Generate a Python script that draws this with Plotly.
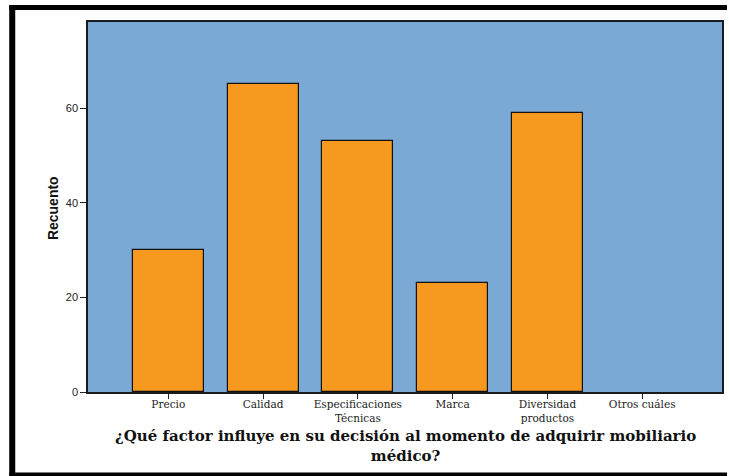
import plotly.graph_objects as go

# Response counts per factor
categorias = ["Precio", "Calidad", "Especificaciones<br>Técnicas", "Marca",
              "Diversidad<br>productos", "Otros cuáles"]
recuento = [30, 65, 53, 23, 59, 0]
y_ticks = [0, 20, 40, 60]

# Plot area in pixels (for converting frame positions to paper coords)
W, H = 729, 476
L, R, T, B = 88, 724, 22, 392
pw, ph = R - L, B - T


def px_x(x):
    return (x - L) / pw


def px_y(y):
    return (B - y) / ph


# empty categories get no outline
outline_w = [1.2 if v > 0 else 0 for v in recuento]

fig = go.Figure()
fig.add_trace(go.Bar(
    x=list(range(len(categorias))),
    y=recuento,
    width=0.75,
    marker=dict(color="#F7991F", line=dict(color="#111111", width=outline_w)),
    hoverinfo="x+y",
))

fig.update_layout(
    width=W, height=H,
    margin=dict(l=L, r=W - R, t=T, b=H - B, pad=0),
    paper_bgcolor="white",
    plot_bgcolor="#7BA9D6",
    showlegend=False,
    bargap=0,
    xaxis=dict(
        range=[-0.847, 5.842],
        tickmode="array",
        tickvals=list(range(len(categorias))),
        ticktext=categorias,
        ticks="outside", ticklen=5, tickwidth=1.2, tickcolor="#222",
        ticklabelstandoff=-3,
        tickfont=dict(family="DejaVu Serif", size=10.5, color="#222"),
        showgrid=False, zeroline=False,
        showline=True, linecolor="#1a1a1a", linewidth=1.5, mirror=True,
    ),
    yaxis=dict(
        range=[0, 78.2],
        tickmode="array", tickvals=y_ticks,
        ticks="outside", ticklen=6, tickwidth=1.2, tickcolor="#222",
        tickfont=dict(family="Liberation Sans", size=11, color="#222"),
        showgrid=False, zeroline=False,
        showline=True, linecolor="#1a1a1a", linewidth=1.5, mirror=True,
    ),
    annotations=[
        dict(text="<b>Recuento</b>", textangle=-90,
             x=px_x(53), y=px_y(208), xref="paper", yref="paper",
             showarrow=False, xanchor="center", yanchor="middle",
             font=dict(family="Liberation Sans", size=14, color="#111")),
        dict(text="<b>¿Qué factor influye en su decisión al momento de adquirir mobiliario<br>médico?</b>",
             x=px_x(407), y=px_y(446), xref="paper", yref="paper",
             showarrow=False, xanchor="center", yanchor="middle",
             font=dict(family="DejaVu Serif", size=15, color="#111")),
    ],
    shapes=[
        # outer frame: top, left and bottom rules
        dict(type="line", xref="paper", yref="paper",
             x0=px_x(9), x1=px_x(729), y0=px_y(7.5), y1=px_y(7.5),
             line=dict(color="black", width=5)),
        dict(type="line", xref="paper", yref="paper",
             x0=px_x(12), x1=px_x(12), y0=px_y(5), y1=px_y(476),
             line=dict(color="black", width=6)),
        dict(type="line", xref="paper", yref="paper",
             x0=px_x(9), x1=px_x(729), y0=px_y(474.5), y1=px_y(474.5),
             line=dict(color="black", width=4)),
    ],
)

fig.write_html("out.html")
